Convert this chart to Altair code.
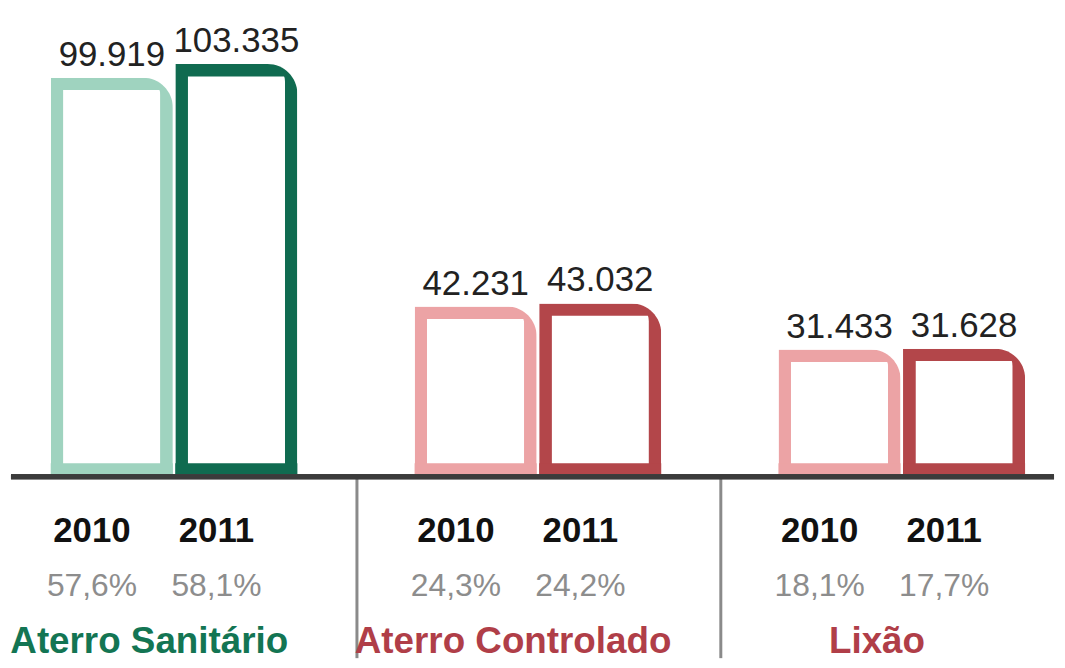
import altair as alt
import pandas as pd

categorias = ["Aterro Sanitário", "Aterro Controlado", "Lixão"]
anos = ["2010", "2011"]
valores_2010 = [99919, 42231, 31433]
valores_2011 = [103335, 43032, 31628]
pct_2010 = ["57,6%", "24,3%", "18,1%"]
pct_2011 = ["58,1%", "24,2%", "17,7%"]
grupo = ["verde", "vermelho", "vermelho"]

rows = []
for i, c in enumerate(categorias):
    for ano, vals, pcts in (("2010", valores_2010, pct_2010), ("2011", valores_2011, pct_2011)):
        v = vals[i]
        rows.append({
            "categoria": c,
            "ano": ano,
            "valor": v,
            "rotulo": f"{v:,}".replace(",", "."),
            "pct": pcts[i],
            "chave": f"{grupo[i]}-{ano}",
        })
df = pd.DataFrame(rows)
df_cat = pd.DataFrame({"categoria": categorias, "grupo": grupo})
df_sep = pd.DataFrame({"categoria": categorias[1:]})

W, H = 1049, 467
BAND = 248
SHIFT = 62.6  # distance from group centre to each year's bar centre
FONT = "Liberation Sans"

xscale = alt.Scale(range=[40, 1020], paddingInner=0.322, paddingOuter=0)
X = alt.X("categoria:N", sort=categorias, scale=xscale, axis=None)
XO = alt.XOffset(
    "ano:N", sort=anos,
    scale=alt.Scale(range=[0, BAND], paddingInner=0.02, paddingOuter=0),
)
XO_in = alt.XOffset(
    "ano:N", sort=anos,
    scale=alt.Scale(range=[0, BAND], paddingInner=0.218, paddingOuter=0.0986),
)
Y = alt.Y("valor:Q", scale=alt.Scale(domain=[0, 117000]), axis=None)

cor = alt.Color(
    "chave:N",
    scale=alt.Scale(
        domain=["verde-2010", "verde-2011", "vermelho-2010", "vermelho-2011"],
        range=["#9fd3bf", "#106b50", "#eca3a5", "#b3464a"],
    ),
    legend=None,
)

base = alt.Chart(df)

# outline bars: coloured outer bar + white inner bar + coloured bottom edge
outer = base.mark_bar(cornerRadiusTopRight=30).encode(
    x=X, xOffset=XO, y=Y, color=cor
)
inner = base.mark_bar(
    color="white",
    cornerRadiusTopRight=18,
    yOffset=12.5,
).encode(x=X, xOffset=XO_in, y=Y)
fundo = base.mark_bar().encode(
    x=X, xOffset=XO, y=alt.value(H - 11), y2=alt.value(H), color=cor
)


def textos(ano, sinal):
    b = base.transform_filter(alt.datum.ano == ano)
    valores = b.mark_text(
        baseline="alphabetic", dx=sinal * SHIFT, dy=-12, fontSize=35, font=FONT,
        color="#222222",
    ).encode(x=X, y=Y, text="rotulo:N")
    anos_txt = b.mark_text(
        baseline="middle", dx=sinal * SHIFT - 20, fontSize=35, font=FONT,
        fontWeight="bold", color="#111111",
    ).encode(x=X, y=alt.value(524), text="ano:N")
    pct_txt = b.mark_text(
        baseline="middle", dx=sinal * SHIFT - 20, fontSize=32, font=FONT,
        color="#8d8d8d",
    ).encode(x=X, y=alt.value(579), text="pct:N")
    return [valores, anos_txt, pct_txt]


cat_txt = alt.Chart(df_cat).mark_text(
    baseline="middle", dx=-25, fontSize=37, font=FONT, fontWeight="bold"
).encode(
    x=X,
    y=alt.value(636),
    text="categoria:N",
    color=alt.Color(
        "grupo:N",
        scale=alt.Scale(domain=["verde", "vermelho"], range=["#137553", "#b03e48"]),
        legend=None,
    ),
)

sep = alt.Chart(df_sep).mark_rule(
    xOffset=-58, strokeWidth=3, color="#8a8a8a"
).encode(
    x=alt.X("categoria:N", sort=categorias, scale=xscale, axis=None, bandPosition=0),
    y=alt.value(471),
    y2=alt.value(652),
)

baseline = alt.Chart(df_cat).mark_rule(strokeWidth=5, color="#3b3b3b").encode(
    x=alt.value(0), x2=alt.value(W), y=alt.value(469.5)
)

chart = (
    alt.layer(
        outer, inner, fundo, sep, baseline,
        *textos("2010", -1), *textos("2011", 1), cat_txt,
    )
    .resolve_scale(color="independent", xOffset="independent")
    .properties(width=W, height=H, padding=0, background="white")
    .configure_view(stroke=None)
)

chart.save("out.html", embed_options={"renderer": "svg", "actions": False})
